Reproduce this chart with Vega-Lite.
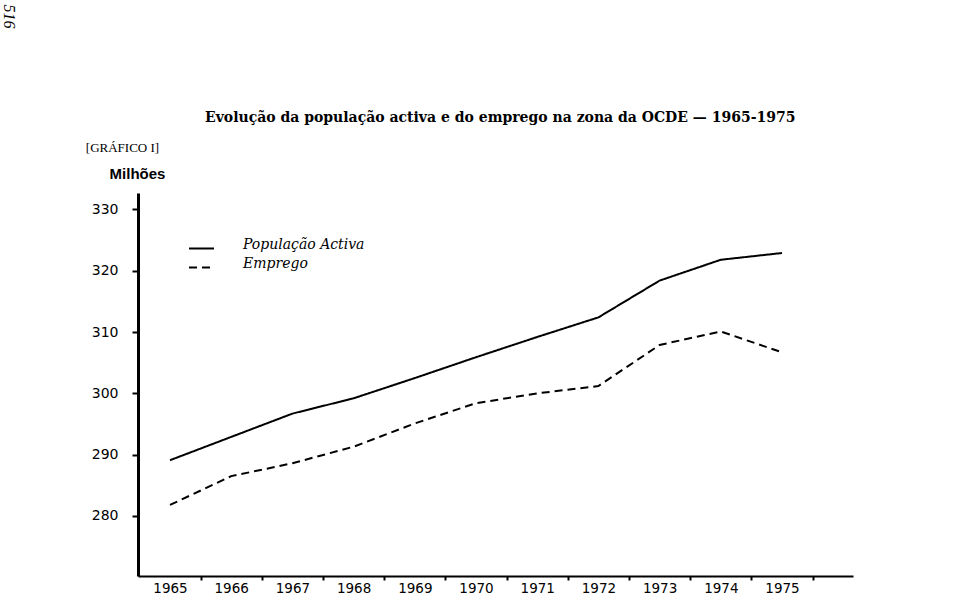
{
  "$schema": "https://vega.github.io/schema/vega-lite/v6.json",
  "width": 715,
  "height": 383,
  "autosize": {"type": "none"},
  "padding": {"left": 138, "top": 193, "right": 107, "bottom": 20},
  "background": "white",
  "config": {"view": {"stroke": null}, "axis": {"grid": false}},
  "title": {
    "text": "Evolução da população activa e do emprego na zona da OCDE — 1965-1975",
    "anchor": "start",
    "frame": "group",
    "dx": 67,
    "dy": 121,
    "offset": 0,
    "font": "DejaVu Serif",
    "fontSize": 14,
    "fontWeight": "bold",
    "color": "black"
  },
  "data": {
    "values": [
      {"ano": 1965, "serie": "População Activa", "milhoes": 289.1},
      {"ano": 1966, "serie": "População Activa", "milhoes": 292.9},
      {"ano": 1967, "serie": "População Activa", "milhoes": 296.7},
      {"ano": 1968, "serie": "População Activa", "milhoes": 299.2},
      {"ano": 1969, "serie": "População Activa", "milhoes": 302.5},
      {"ano": 1970, "serie": "População Activa", "milhoes": 305.9},
      {"ano": 1971, "serie": "População Activa", "milhoes": 309.2},
      {"ano": 1972, "serie": "População Activa", "milhoes": 312.4},
      {"ano": 1973, "serie": "População Activa", "milhoes": 318.4},
      {"ano": 1974, "serie": "População Activa", "milhoes": 321.8},
      {"ano": 1975, "serie": "População Activa", "milhoes": 322.9},
      {"ano": 1965, "serie": "Emprego", "milhoes": 281.8},
      {"ano": 1966, "serie": "Emprego", "milhoes": 286.5},
      {"ano": 1967, "serie": "Emprego", "milhoes": 288.6},
      {"ano": 1968, "serie": "Emprego", "milhoes": 291.3},
      {"ano": 1969, "serie": "Emprego", "milhoes": 295.1},
      {"ano": 1970, "serie": "Emprego", "milhoes": 298.4},
      {"ano": 1971, "serie": "Emprego", "milhoes": 300.0},
      {"ano": 1972, "serie": "Emprego", "milhoes": 301.2},
      {"ano": 1973, "serie": "Emprego", "milhoes": 307.9},
      {"ano": 1974, "serie": "Emprego", "milhoes": 310.1},
      {"ano": 1975, "serie": "Emprego", "milhoes": 306.7}
    ]
  },
  "layer": [
    {
      "mark": {"type": "line", "strokeWidth": 2, "color": "black"},
      "encoding": {
        "x": {
          "field": "ano",
          "type": "quantitative",
          "scale": {"domain": [1964.477, 1976.16], "nice": false, "zero": false},
          "axis": {
            "values": [1965.5, 1966.5, 1967.5, 1968.5, 1969.5, 1970.5, 1971.5, 1972.5, 1973.5, 1974.5, 1975.5],
            "labelExpr": "'' + floor(datum.value)",
            "labelOffset": -30.6,
            "title": null,
            "grid": false,
            "domainColor": "black",
            "domainWidth": 2,
            "tickColor": "black",
            "tickWidth": 2,
            "tickSize": 4,
            "labelFont": "DejaVu Sans",
            "labelFontSize": 13.5,
            "labelColor": "black",
            "labelPadding": 1,
            "labelOverlap": false,
            "labelFlush": false,
            "labelBound": false
          }
        },
        "y": {
          "field": "milhoes",
          "type": "quantitative",
          "scale": {"domain": [270.21, 332.69], "nice": false, "zero": false},
          "axis": {
            "values": [280, 290, 300, 310, 320, 330],
            "format": "d",
            "title": "Milhões",
            "titleAngle": 0,
            "titleX": -1,
            "titleY": -20,
            "titleAlign": "center",
            "titleBaseline": "middle",
            "titleFont": "Liberation Sans",
            "titleFontSize": 15,
            "titleFontWeight": "bold",
            "titleColor": "black",
            "grid": false,
            "domainColor": "black",
            "domainWidth": 3,
            "tickColor": "black",
            "tickWidth": 2,
            "tickSize": 6,
            "labelFont": "DejaVu Sans",
            "labelFontSize": 14,
            "labelColor": "black",
            "labelPadding": 14
          }
        },
        "strokeDash": {
          "field": "serie",
          "type": "nominal",
          "scale": {"domain": ["População Activa", "Emprego"], "range": [[1, 0], [8, 5]]},
          "legend": {
            "orient": "none",
            "legendX": 50,
            "legendY": 42,
            "title": null,
            "padding": 0,
            "symbolType": "stroke",
            "symbolSize": 625,
            "symbolStrokeWidth": 2,
            "symbolStrokeColor": "black",
            "labelFont": "DejaVu Serif",
            "labelFontStyle": "italic",
            "labelFontSize": 14,
            "labelColor": "black",
            "labelOffset": 28,
            "labelBaseline": "alphabetic",
            "rowPadding": 1
          }
        }
      }
    },
    {
      "mark": {"type": "point", "opacity": 0},
      "encoding": {
        "x": {
          "field": "ano",
          "type": "quantitative",
          "axis": {
            "orient": "top",
            "title": "516",
            "domain": false,
            "ticks": false,
            "labels": false,
            "grid": false,
            "titleAngle": 90,
            "titleX": -130,
            "titleY": -177,
            "titleAlign": "center",
            "titleBaseline": "middle",
            "titleFont": "Liberation Serif",
            "titleFontStyle": "italic",
            "titleFontSize": 16,
            "titleFontWeight": "normal",
            "titleColor": "black"
          }
        },
        "y": {
          "field": "milhoes",
          "type": "quantitative",
          "axis": {
            "orient": "left",
            "title": "[GRÁFICO I]",
            "domain": false,
            "ticks": false,
            "labels": false,
            "grid": false,
            "titleAngle": 0,
            "titleX": -16,
            "titleY": -46,
            "titleAlign": "center",
            "titleBaseline": "middle",
            "titleFont": "Liberation Serif",
            "titleFontSize": 13,
            "titleFontWeight": "normal",
            "titleColor": "black"
          }
        }
      }
    }
  ],
  "resolve": {"axis": {"x": "independent", "y": "independent"}}
}
